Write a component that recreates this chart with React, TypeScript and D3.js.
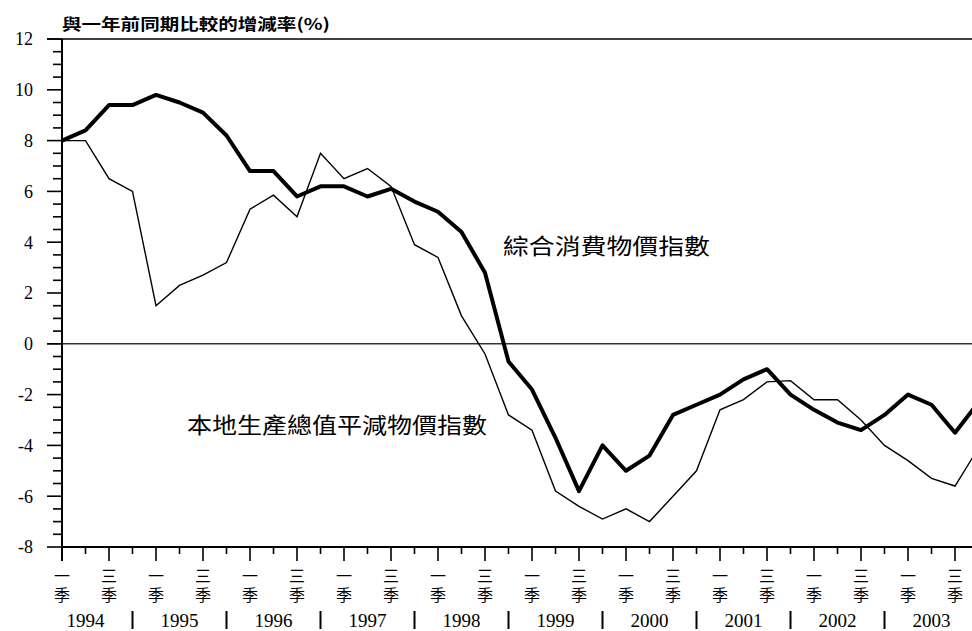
import * as d3 from "d3";

// quarterly year-on-year change (%), 1994 Q1 .. 2003 Q4
const years = ["1994", "1995", "1996", "1997", "1998", "1999", "2000", "2001", "2002", "2003"];
const cpi = [
  8.0, 8.4, 9.4, 9.4, 9.8, 9.5, 9.1, 8.2, 6.8, 6.8,
  5.8, 6.2, 6.2, 5.8, 6.1, 5.6, 5.2, 4.4, 2.8, -0.7,
  -1.8, -3.7, -5.8, -4.0, -5.0, -4.4, -2.8, -2.4, -2.0, -1.4,
  -1.0, -2.0, -2.6, -3.1, -3.4, -2.8, -2.0, -2.4, -3.5, -2.3,
];
const deflator = [
  8.0, 8.0, 6.5, 6.0, 1.5, 2.3, 2.7, 3.2, 5.3, 5.85,
  5.0, 7.5, 6.5, 6.9, 6.2, 3.9, 3.4, 1.1, -0.4, -2.8,
  -3.4, -5.8, -6.4, -6.9, -6.5, -7.0, -6.0, -5.0, -2.6, -2.2,
  -1.5, -1.45, -2.2, -2.2, -3.0, -4.0, -4.6, -5.3, -5.6, -4.1,
];

const yTicks = [12, 10, 8, 6, 4, 2, 0, -2, -4, -6, -8];
const quarterLabels = ["一季", "三季"];
const title = "與一年前同期比較的增減率(%)";
const cpiLabel = "綜合消費物價指數";
const deflatorLabel = "本地生產總值平減物價指數";

const W = 972;
const H = 631;
const serif = "'Liberation Serif', 'DejaVu Serif', serif";
const cjk = "'Noto Sans CJK TC', 'Noto Sans CJK SC', sans-serif";

export default function App() {
  const x = d3.scaleLinear().domain([0, 38]).range([62, 955]);
  const y = d3.scaleLinear().domain([-8, 12]).range([547, 39]);
  const line = d3
    .line<number>()
    .x((_, i) => x(i))
    .y((d) => y(d));

  const nQ = years.length * 4;
  const halfTicks = d3.range(-8, 12.01, 0.5);

  return (
    <div style={{ position: "absolute", left: 0, top: 0 }}>
      <svg width={W} height={H} style={{ display: "block", background: "#fff" }}>
        {/* title */}
        <text
          x={62}
          y={30}
          fontFamily={cjk}
          fontSize={16}
          fontWeight="bold"
          textLength={268}
          lengthAdjust="spacingAndGlyphs"
        >
          {title}
        </text>

        {/* 12 line and zero line */}
        <line x1={47} x2={W} y1={y(12)} y2={y(12)} stroke="#000" strokeWidth={1.6} />
        <line x1={47} x2={W} y1={y(0)} y2={y(0)} stroke="#333" strokeWidth={1.6} />

        {/* y axis */}
        <line x1={62} x2={62} y1={y(12)} y2={y(-8) + 14} stroke="#000" strokeWidth={2} />
        {halfTicks.map((t) => {
          const major = Math.abs(t % 2) < 1e-6;
          return (
            <line
              key={t}
              x1={major ? 47 : 53}
              x2={62}
              y1={y(t)}
              y2={y(t)}
              stroke="#000"
              strokeWidth={1.6}
            />
          );
        })}
        {yTicks.map((t) => (
          <text
            key={t}
            x={33}
            y={y(t)}
            dy="0.35em"
            textAnchor="end"
            fontFamily={serif}
            fontSize={18}
          >
            {t}
          </text>
        ))}

        {/* x axis */}
        <line x1={62} x2={W} y1={y(-8)} y2={y(-8)} stroke="#000" strokeWidth={2} />
        {d3.range(nQ).map((i) => (
          <line
            key={i}
            x1={x(i)}
            x2={x(i)}
            y1={y(-8)}
            y2={y(-8) + (i % 2 === 0 ? 14 : 7)}
            stroke="#000"
            strokeWidth={1.6}
          />
        ))}
        {d3.range(nQ)
          .filter((i) => i % 2 === 0)
          .map((i) => (
            <text
              key={"q" + i}
              x={x(i)}
              y={568}
              fontFamily={cjk}
              fontSize={16}
              style={{ writingMode: "vertical-rl", letterSpacing: "3px" }}
            >
              {quarterLabels[(i % 4) / 2]}
            </text>
          ))}
        {years.map((yr, k) => (
          <g key={yr}>
            <text
              x={x(k * 4 + 1)}
              y={620}
              dy="0.35em"
              textAnchor="middle"
              fontFamily={serif}
              fontSize={19}
            >
              {yr}
            </text>
            {k < years.length - 1 && (
              <line
                x1={x(k * 4 + 3)}
                x2={x(k * 4 + 3)}
                y1={611}
                y2={629}
                stroke="#000"
                strokeWidth={2}
              />
            )}
          </g>
        ))}

        {/* series */}
        <path d={line(deflator) ?? ""} fill="none" stroke="#000" strokeWidth={1.4} />
        <path d={line(cpi) ?? ""} fill="none" stroke="#000" strokeWidth={4} strokeLinejoin="round" />

        {/* annotations */}
        <text
          x={503}
          y={246}
          dy="0.35em"
          fontFamily={cjk}
          fontSize={22}
          textLength={207}
          lengthAdjust="spacingAndGlyphs"
        >
          {cpiLabel}
        </text>
        <text
          x={187}
          y={425}
          dy="0.35em"
          fontFamily={cjk}
          fontSize={22}
          textLength={300}
          lengthAdjust="spacingAndGlyphs"
        >
          {deflatorLabel}
        </text>
      </svg>
    </div>
  );
}
